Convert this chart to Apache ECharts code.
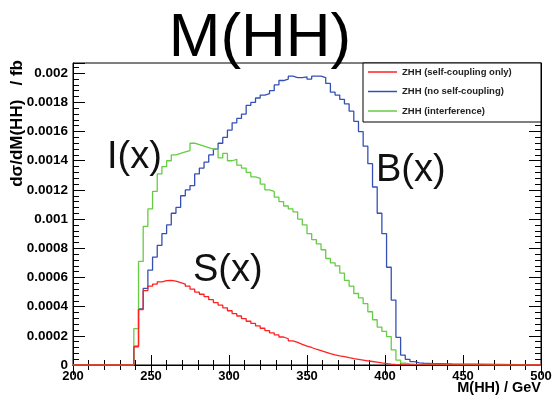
<!DOCTYPE html>
<html>
<head>
<meta charset="utf-8">
<script src="https://cdn.jsdelivr.net/npm/echarts@6/dist/echarts.min.js"></script>
<style>
  html, body { margin: 0; padding: 0; background: #fff; }
  #chart { width: 558px; height: 396px; }
</style>
</head>
<body>
<div id="chart"></div>
<script>
// histogram binning (GeV): first filled bin starts at 239, 3 GeV wide
const xMin = 200;
const xMax = 500;
const binStart = 239;
const binWidth = 3;

const seriesNames = ['ZHH (self-coupling only)', 'ZHH (no self-coupling)', 'ZHH (interference)'];

// S(x): self-coupling only
const sValues = [
  1.25e-4, 3.8e-4, 5.1e-4, 5.4e-4, 5.55e-4, 5.7e-4, 5.78e-4, 5.8e-4, 5.75e-4, 5.65e-4,
  5.55e-4, 5.4e-4, 5.2e-4, 5.0e-4, 4.85e-4, 4.68e-4, 4.48e-4, 4.28e-4, 4.1e-4, 3.92e-4,
  3.72e-4, 3.52e-4, 3.36e-4, 3.18e-4, 3.0e-4, 2.85e-4, 2.68e-4, 2.52e-4, 2.36e-4, 2.2e-4,
  2.06e-4, 1.92e-4, 1.8e-4, 1.66e-4, 1.55e-4, 1.42e-4, 1.3e-4, 1.2e-4, 1.08e-4, 9.8e-5,
  8.8e-5, 7.8e-5, 7.0e-5, 6.3e-5, 5.7e-5, 5.0e-5, 4.4e-5, 3.9e-5, 3.4e-5, 2.9e-5,
  2.4e-5, 1.9e-5, 1.4e-5, 1.0e-5, 6e-6, 3e-6
];

// B(x): no self-coupling
const bValues = [
  1.3e-4, 3.85e-4, 5.25e-4, 6.5e-4, 7.4e-4, 8.2e-4, 9.0e-4, 9.6e-4, 1.04e-3, 1.08e-3,
  1.16e-3, 1.20e-3, 1.23e-3, 1.31e-3, 1.35e-3, 1.39e-3, 1.44e-3, 1.48e-3, 1.52e-3, 1.56e-3,
  1.61e-3, 1.66e-3, 1.69e-3, 1.72e-3, 1.78e-3, 1.80e-3, 1.83e-3, 1.85e-3, 1.86e-3, 1.88e-3,
  1.92e-3, 1.95e-3, 1.96e-3, 1.98e-3, 1.97e-3, 1.97e-3, 1.975e-3, 1.96e-3, 1.98e-3, 1.98e-3,
  1.97e-3, 1.93e-3, 1.87e-3, 1.85e-3, 1.82e-3, 1.79e-3, 1.74e-3, 1.67e-3, 1.60e-3, 1.50e-3,
  1.38e-3, 1.22e-3, 1.04e-3, 9.0e-4, 6.7e-4, 4.45e-4, 1.9e-4, 6.8e-5, 3.9e-5, 2.3e-5,
  1.4e-5, 1.2e-5, 1.1e-5, 1.0e-5, 1.0e-5, 9e-6, 8e-6, 7e-6
];

// I(x): interference
const iValues = [
  2.5e-4, 7.1e-4, 9.5e-4, 1.07e-3, 1.19e-3, 1.31e-3, 1.36e-3, 1.40e-3, 1.44e-3, 1.45e-3,
  1.46e-3, 1.47e-3, 1.52e-3, 1.51e-3, 1.50e-3, 1.49e-3, 1.48e-3, 1.48e-3, 1.42e-3, 1.45e-3,
  1.40e-3, 1.41e-3, 1.37e-3, 1.35e-3, 1.32e-3, 1.29e-3, 1.28e-3, 1.24e-3, 1.20e-3, 1.19e-3,
  1.15e-3, 1.12e-3, 1.09e-3, 1.07e-3, 1.05e-3, 1.00e-3, 9.6e-4, 9.0e-4, 8.6e-4, 8.3e-4,
  7.9e-4, 7.3e-4, 7.0e-4, 6.8e-4, 6.3e-4, 5.8e-4, 5.4e-4, 4.9e-4, 4.6e-4, 4.2e-4,
  3.65e-4, 3.1e-4, 2.6e-4, 2.3e-4, 1.95e-4, 1.03e-4, 3.4e-5, 1.2e-5, 8e-6, 5e-6
];

const curveLabels = ['S(x)', 'B(x)', 'I(x)'];

// turn bin contents into step points over the full axis range
function histPoints(values) {
  const pts = [[xMin, 0]];
  values.forEach((v, i) => pts.push([binStart + i * binWidth, v]));
  pts.push([binStart + values.length * binWidth, 0]);
  pts.push([xMax, 0]);
  return pts;
}

const chart = echarts.init(document.getElementById('chart'), null, { renderer: 'canvas' });

const FONT = '"Liberation Sans", Arial, Helvetica, sans-serif';
const axisLine = { show: true, lineStyle: { color: '#000', width: 1 } };

const option = {
  backgroundColor: '#fff',
  animation: false,
  grid: { left: 73, right: 17, top: 63, bottom: 31, show: true, borderColor: '#000', borderWidth: 1 },
  legend: {
    z: 20,
    orient: 'vertical',
    left: 363,
    top: 61,
    itemWidth: 29,
    itemHeight: 1.5,
    itemGap: 7.5,
    icon: 'rect',
    textStyle: { fontFamily: FONT, fontSize: 9.5, fontWeight: 'bold', color: '#222', lineHeight: 12 },
    data: seriesNames
  },
  xAxis: [
    {
      type: 'value', min: xMin, max: xMax, interval: 50, position: 'bottom',
      axisLine,
      axisTick: { inside: true, length: 10, lineStyle: { color: '#000' } },
      minorTick: { show: true, splitNumber: 5, length: 5, lineStyle: { color: '#000' } },
      axisLabel: { fontFamily: FONT, fontSize: 13, fontWeight: 'bold', color: '#000', margin: 5 },
      splitLine: { show: false }
    },
    {
      type: 'value', min: xMin, max: xMax, interval: 50, position: 'top',
      axisLine,
      axisTick: { inside: true, length: 10, lineStyle: { color: '#000' } },
      minorTick: { show: true, splitNumber: 5, length: 5, lineStyle: { color: '#000' } },
      axisLabel: { show: false },
      splitLine: { show: false }
    }
  ],
  yAxis: [
    {
      type: 'value', min: 0, max: 0.00207, interval: 0.0002, position: 'left',
      axisLine,
      axisTick: { inside: true, length: 12, lineStyle: { color: '#000' } },
      minorTick: { show: true, splitNumber: 5, length: 6, lineStyle: { color: '#000' } },
      axisLabel: {
        fontFamily: FONT, fontSize: 13.5, fontWeight: 'bold', color: '#000', margin: 5,
        formatter: v => String(+v.toFixed(4))
      },
      splitLine: { show: false }
    },
    {
      type: 'value', min: 0, max: 0.00207, interval: 0.0002, position: 'right',
      axisLine,
      axisTick: { inside: true, length: 12, lineStyle: { color: '#000' } },
      minorTick: { show: true, splitNumber: 5, length: 6, lineStyle: { color: '#000' } },
      axisLabel: { show: false },
      splitLine: { show: false }
    }
  ],
  series: [
    { name: seriesNames[0], values: sValues, color: '#ff2020', z: 5 },
    { name: seriesNames[1], values: bValues, color: '#3550b5', z: 3 },
    { name: seriesNames[2], values: iValues, color: '#66cc44', z: 4 }
  ].map(s => ({
    name: s.name,
    type: 'line',
    step: 'end',
    showSymbol: false,
    symbol: 'none',
    z: s.z,
    color: s.color,
    lineStyle: { color: s.color, width: 1.3 },
    data: histPoints(s.values)
  })),
  graphic: [
    {
      type: 'rect', z: 2, silent: true,
      shape: { x: 363, y: 63, width: 178, height: 59 },
      style: { fill: '#fff', stroke: '#000', lineWidth: 1 }
    },
    {
      type: 'text', x: 260, y: 39,
      style: { text: 'M(HH)', fontFamily: FONT, fontSize: 62, fill: '#000', align: 'center', verticalAlign: 'middle' }
    },
    {
      type: 'text', x: 193, y: 271,
      style: { text: curveLabels[0], fontFamily: FONT, fontSize: 38, fill: '#111', verticalAlign: 'middle' }
    },
    {
      type: 'text', x: 376, y: 171,
      style: { text: curveLabels[1], fontFamily: FONT, fontSize: 38, fill: '#111', verticalAlign: 'middle' }
    },
    {
      type: 'text', x: 107, y: 158,
      style: { text: curveLabels[2], fontFamily: FONT, fontSize: 38, fill: '#111', verticalAlign: 'middle' }
    },
    {
      type: 'text', x: 17, y: 60, rotation: Math.PI / 2,
      style: { text: 'd\u03c3/dM(HH)   / fb', fontFamily: FONT, fontSize: 17, fontWeight: 'bold', fill: '#000', align: 'right', verticalAlign: 'middle' }
    },
    {
      type: 'text', x: 541, y: 388,
      style: { text: 'M(HH) / GeV', fontFamily: FONT, fontSize: 14.5, fontWeight: 'bold', fill: '#000', align: 'right', verticalAlign: 'middle' }
    }
  ]
};

chart.setOption(option);
window.addEventListener('resize', () => chart.resize());
</script>
</body>
</html>
